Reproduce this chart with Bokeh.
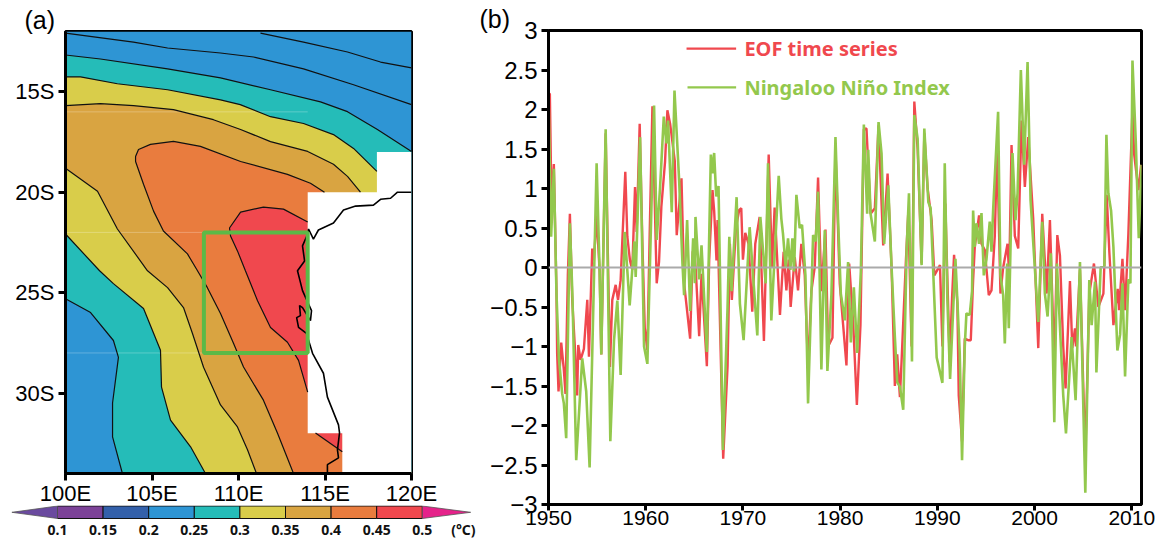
from bokeh.plotting import figure
from bokeh.layouts import row, column
from bokeh.models import Range1d, FixedTicker, Span, Title
from bokeh.core.properties import value
from bokeh.embed import file_html
from bokeh.resources import INLINE

# ---------- panel (a): contour lines, lon / lat ----------
a_lon = [100, 103.93, 105.9, 108.96, 110.87, 113.76, 116.65, 120]
a_lat = [-12.08, -12.53, -12.82, -13.07, -13.27, -13.86, -14.65, -15.64]
b_lon = [111.27, 113.76, 116.3, 118.21, 120]
b_lat = [-12.08, -12.53, -13.02, -13.52, -13.81]
c_lon = [100, 102.02, 105.9, 108.96, 111.85, 114.74, 116.3, 118.03, 120]
c_lat = [-13.17, -13.37, -13.86, -14.31, -14.9, -15.5, -15.99, -16.88, -17.97]
d_lon = [100, 100.87, 103.0, 105.9, 108.96, 110.1, 111.85, 113.76, 115.49, 116.65, 118]
d_lat = [-14.26, -14.26, -14.6, -14.9, -15.4, -15.64, -16.24, -16.58, -17.13, -17.82, -18.96]
e_lon = [100, 102.02, 103.93, 106.24, 108.55, 110.12, 111.85, 114, 115.49, 116.3, 117.05]
e_lat = [-15.69, -15.59, -15.69, -15.89, -16.39, -16.88, -17.48, -17.97, -18.61, -19.21, -20.0]
f_lon = [113.18, 112.25, 111.44, 110.29, 109.71, 108.96, 108.2, 107.63, 107.05, 105.66, 105.09, 104.51,
         104.05, 104.05, 104.22, 104.91, 106.24, 107.8, 110.12, 112.83, 114.16, 114.97]
f_lat = [-34, -31.98, -30.35, -28.7, -27.52, -26.04, -24.75, -23.91, -23.07, -21.93, -20.94, -19.6,
         -18.47, -18.22, -17.87, -17.62, -17.47, -17.72, -18.47, -19.11, -19.55, -20.0]
g_lon = [100, 101.85, 103.0, 104.74, 105.9, 106.82, 107.34, 107.98, 108.96, 109.94, 110.52, 111.04]
g_lat = [-18.81, -19.95, -21.83, -23.91, -24.75, -25.74, -27.03, -28.71, -30.59, -31.68, -32.82, -34]
h_lon = [100, 101.97, 102.77, 104.51, 105.49, 105.55, 106.07, 107.23, 108.09]
h_lat = [-22.08, -23.91, -24.55, -25.79, -27.87, -29.7, -31.34, -32.67, -34]
i_lon = [100, 101.45, 102.77, 103.06, 102.72, 102.72, 103.29]
i_lat = [-25.3, -25.99, -27.38, -28.22, -30.49, -32.18, -34]
r_lon = [114, 112.6, 111.44, 110.12, 109.48, 109.54, 109.94, 110.4, 111.1, 111.85, 112.83, 113.47, 114]
r_lat = [-21.48, -20.84, -20.74, -20.99, -21.78, -22.18, -22.92, -23.91, -25.4, -26.73, -27.47, -28.37, -29.95]
s_lon = [114.45, 116, 116]
s_lat = [-31.98, -31.98, -32.92]
land_lon = [120, 118, 118, 114, 114, 116, 116, 120]
land_lat = [-18, -18, -20, -20, -32, -32, -34, -34]
coast_lon = [120, 119.19, 118.79, 118.21, 117.8, 116.77, 116.07, 115.49, 114.62, 114.33, 114.05, 114, 113.7,
             113.82, 113.41, 113.7, 114.22, 114.16, 113.7, 113.53, 113.58, 113.36, 113.47, 113.93, 114.28,
             114.91, 115.14, 115.78, 115.84, 115.72, 115.78, 115.14, 115.14]
coast_lat = [-20, -20, -20.3, -20.35, -20.64, -20.69, -20.89, -21.53, -21.88, -22.33, -21.83, -22.08, -22.67,
             -23.42, -23.91, -24.9, -25.89, -26.39, -25.74, -25.64, -26.14, -26.24, -26.73, -27.03, -28.02,
             -29.01, -30.2, -31.58, -31.98, -32.82, -33.22, -33.56, -34]
seam_lat = [-16, -22, -28]
lat_ticks = [-30, -25, -20, -15]
lat_labels = ["30S", "25S", "20S", "15S"]
lon_ticks = [100, 105, 110, 115, 120]
lon_labels = ["100E", "105E", "110E", "115E", "120E"]

# colour bar
levels = [0.1, 0.15, 0.2, 0.25, 0.3, 0.35, 0.4, 0.45, 0.5]
level_labels = ["0.1", "0.15", "0.2", "0.25", "0.3", "0.35", "0.4", "0.45", "0.5"]
low_colour, high_colour = "#6a4a9f", "#e5228a"
bar_colours = ["#7c4298", "#3360aa", "#2e95d4", "#25bcb8", "#d9cd4a", "#d9a441", "#e97c3e", "#f0484e"]

# ---------- panel (b): the two series ----------
eof_year = [1950.0, 1950.14, 1950.31, 1950.55, 1950.82, 1950.89, 1951.03, 1951.31, 1951.58, 1951.75, 1951.99, 1952.2,
            1952.44, 1952.71, 1952.95, 1953.06, 1953.3, 1953.47, 1953.64, 1953.99, 1954.16, 1954.5, 1954.67, 1954.95,
            1955.26, 1955.43, 1955.88, 1956.32, 1956.56, 1956.91, 1957.15, 1957.42, 1957.9, 1958.11, 1958.38, 1958.62,
            1958.9, 1959.07, 1959.38, 1959.66, 1959.9, 1960.17, 1960.41, 1960.69, 1961.13, 1961.37, 1961.61, 1961.99,
            1962.23, 1962.51, 1962.99, 1963.19, 1963.68, 1963.95, 1964.57, 1964.84, 1964.98, 1965.15, 1965.5, 1965.74,
            1966.29, 1966.53, 1966.87, 1967.04, 1967.28, 1967.39, 1967.97, 1968.42, 1968.66, 1968.86, 1969.28, 1969.62,
            1969.83, 1970.0, 1970.24, 1970.58, 1970.96, 1971.27, 1971.72, 1972.16, 1972.65, 1972.99, 1973.26, 1973.81,
            1974.19, 1974.47, 1974.71, 1974.91, 1975.33, 1975.67, 1976.01, 1976.36, 1976.7, 1977.04, 1977.39, 1977.73,
            1978.07, 1978.49, 1978.76, 1979.21, 1979.52, 1979.96, 1980.31, 1980.65, 1980.93, 1981.34, 1981.72, 1982.09,
            1982.44, 1982.71, 1983.13, 1983.57, 1983.95, 1984.43, 1984.88, 1985.29, 1985.63, 1985.87, 1986.15, 1986.32,
            1986.77, 1987.01, 1987.35, 1987.63, 1987.97, 1988.38, 1988.66, 1989.0, 1989.41, 1989.69, 1990.27, 1990.52,
            1990.82, 1991.27, 1991.51, 1991.72, 1992.06, 1992.2, 1992.54, 1992.82, 1993.16, 1993.44, 1993.68, 1993.85,
            1994.29, 1994.54, 1994.88, 1995.29, 1995.57, 1995.91, 1996.15, 1996.49, 1996.77, 1997.22, 1997.39, 1997.63,
            1997.97, 1998.32, 1998.66, 1999.0, 1999.35, 1999.86, 2000.38, 2000.79, 2001.24, 2001.58, 2002.03, 2002.34,
            2002.61, 2002.95, 2003.19, 2003.64, 2003.88, 2004.16, 2004.26, 2004.67, 2005.22, 2005.63, 2006.11, 2006.56,
            2007.08, 2007.42, 2007.69, 2008.11, 2008.55, 2008.69, 2009.04, 2009.31, 2009.65, 2010.07, 2010.24, 2010.68,
            2010.96]
eof_value = [2.2, 2.2, 0.77, 1.31, -0.3, -1.09, -1.57, -0.95, -1.3, -1.6, -0.1, 0.68,
             -0.41, -1.0, -1.62, -0.98, -1.17, -1.1, -1.03, -0.41, -1.13, 0.24, 0.09, 0.66,
             -0.05, -1.1, 1.7, -1.26, -0.41, -0.22, -0.41, -0.16, 1.21, 0.39, 0.09, -0.03,
             1.02, 0.45, 1.82, 0.3, -0.76, -1.05, 0.43, 2.04, -0.2, 0.07, 0.77, 1.34,
             1.99, 1.82, 1.35, 0.41, 1.13, -0.2, -0.9, 0.2, 0.22, -0.03, -0.87, -0.08,
             -1.25, 0.1, 0.98, 0.72, 0.09, 0.6, -2.42, -1.25, 0.3, -0.41, 0.5, 0.73,
             0.75, 0.1, 0.44, 0.3, -0.56, 0.3, 0.64, -0.93, 1.43, 0.0, 0.76, -0.6,
             0.2, -0.29, 0.1, -0.5, 0.13, -0.29, 0.3, -0.1, -1.28, -0.3, 0.01, 1.14,
             -0.3, 0.48, -1.0, -0.89, 1.5, -0.2, -0.73, -1.24, 0.05, -0.7, -1.74, -0.73,
             1.75, 1.76, 0.68, 0.75, 1.8, 0.28, 1.19, 0.0, -1.5, -1.1, -1.64, -1.18,
             0.1, 0.7, -1.0, 2.1, 1.5, 0.05, 1.7, 1.0, 0.6, -0.1, 0.03, -1.0,
             0.81, -1.2, -0.39, 0.16, -0.46, -1.62, -2.2, -0.9, -0.92, -0.92, -0.16, 0.26,
             0.66, 0.3, 0.22, -0.35, -0.29, 0.4, 1.53, -0.33, 0.0, 0.3, -0.1, 1.55,
             0.4, 0.24, 1.86, 1.02, 1.65, 0.62, -1.02, 0.68, -0.33, 0.6, -1.22, 0.41,
             0.15, -1.0, -1.53, -0.17, -1.02, -0.77, -1.0, -0.03, -2.4, -0.33, 0.05, -0.5,
             -0.33, 0.92, 0.2, -0.73, -0.27, -0.54, 0.11, -0.54, 0.43, 2.0, 1.44, 0.98,
             1.3]
nni_year = [1950.0, 1950.27, 1950.55, 1950.82, 1951.07, 1951.41, 1951.58, 1951.82, 1952.2, 1952.47, 1952.85, 1953.16,
            1953.47, 1953.88, 1954.23, 1954.95, 1955.26, 1955.43, 1955.88, 1956.36, 1956.74, 1957.08, 1957.42, 1957.84,
            1958.35, 1958.83, 1958.97, 1959.42, 1959.83, 1960.17, 1960.86, 1961.13, 1961.48, 1961.86, 1962.13, 1962.3,
            1962.68, 1962.96, 1963.44, 1963.78, 1963.95, 1964.26, 1964.57, 1964.88, 1965.05, 1965.12, 1965.5, 1965.74,
            1966.29, 1966.7, 1966.87, 1967.04, 1967.25, 1967.49, 1967.94, 1968.42, 1968.6, 1968.83, 1969.35, 1969.69,
            1970.07, 1970.69, 1971.48, 1971.79, 1972.34, 1972.58, 1972.92, 1973.68, 1973.95, 1974.12, 1974.4, 1974.64,
            1974.88, 1975.09, 1975.26, 1975.5, 1975.84, 1976.08, 1976.43, 1976.7, 1977.22, 1977.49, 1977.73, 1978.07,
            1978.42, 1978.69, 1979.1, 1979.52, 1979.79, 1980.07, 1980.48, 1980.82, 1981.1, 1981.41, 1981.75, 1982.13,
            1982.44, 1982.78, 1982.89, 1983.13, 1983.57, 1983.95, 1984.26, 1984.53, 1984.95, 1985.29, 1985.63, 1985.87,
            1986.15, 1986.49, 1986.84, 1987.08, 1987.39, 1987.63, 1987.97, 1988.38, 1988.66, 1989.07, 1989.31, 1989.52,
            1989.93, 1990.52, 1990.76, 1991.03, 1991.31, 1991.86, 1992.3, 1992.54, 1992.82, 1992.99, 1993.33, 1993.57,
            1993.68, 1993.85, 1994.02, 1994.29, 1994.54, 1994.78, 1995.05, 1995.39, 1995.57, 1995.74, 1996.25, 1996.49,
            1996.77, 1996.94, 1997.18, 1997.35, 1997.73, 1998.04, 1998.25, 1998.59, 1998.93, 1999.28, 1999.59, 1999.86,
            2000.38, 2000.79, 2001.06, 2001.34, 2001.68, 2002.03, 2002.3, 2002.95, 2003.23, 2003.81, 2004.22, 2004.67,
            2005.22, 2005.63, 2005.87, 2006.22, 2006.36, 2006.8, 2007.18, 2007.39, 2007.59, 2007.87, 2008.11, 2008.52,
            2008.8, 2009.04, 2009.31, 2009.65, 2009.86, 2010.07, 2010.41, 2010.72, 2011.0]
nni_value = [2.2, 0.39, 1.25, -0.33, -1.15, -1.6, -1.72, -2.16, 0.56, -0.39, -2.44, -1.8,
             -1.15, -1.57, -2.53, 1.32, -0.05, -1.1, 1.75, -2.2, -0.92, -0.42, -1.36, 0.45,
             -0.48, 0.33, -0.12, 1.65, -1.0, -1.22, 2.05, 0.35, 1.02, 1.91, 1.57, 1.86,
             0.7, 2.24, 1.1, 0.05, -0.35, 0.6, -0.55, 0.37, -0.2, 0.64, -0.15, 0.28,
             -1.07, 1.43, 1.19, 1.45, 0.9, 1.03, -2.31, -0.5, 0.39, -0.3, 0.89, -0.46,
             -0.92, 0.51, -0.86, 0.64, -0.2, 1.32, -0.67, 1.16, 0.62, 0.43, 0.0, 0.37,
             -0.03, 0.37, -0.05, 0.92, 0.5, 0.54, -0.1, -1.72, 0.41, 0.33, 0.96, -1.29,
             0.47, -1.31, -0.35, 1.65, 0.6, -0.33, -0.67, 0.07, -0.95, -0.25, -1.08, -0.05,
             1.81, 0.68, 1.49, 0.68, 0.33, 1.84, 1.44, 0.3, 1.04, 0.0, -0.88, -1.45,
             -1.51, -1.8, 0.22, 0.94, -1.19, 1.93, 1.63, 0.03, 1.76, 0.83, 0.75, 0.11,
             -1.14, -1.46, 1.32, -0.4, -1.41, 0.11, -1.07, -2.44, -1.0, -0.58, -0.6, -0.3,
             0.72, 0.26, 0.56, 0.3, 0.69, -0.1, 0.1, 0.58, 0.2, 0.73, 1.97, -0.1,
             -0.35, -0.96, 0.05, -0.77, 1.45, 0.6, 0.94, 2.5, 1.3, 2.6, 0.85, 0.32,
             -0.69, 0.58, -0.33, -0.62, 0.18, -1.96, 0.05, -1.62, -2.1, -0.88, -1.68, 0.07,
             -2.85, -0.16, -0.73, -0.18, -1.33, 0.0, 0.02, 1.68, 0.94, 0.72, 0.26, -1.05,
             -0.85, -0.2, -1.38, -0.15, -0.2, 2.62, 1.6, 0.37, 1.3]
x_ticks = [1950, 1960, 1970, 1980, 1990, 2000, 2010]
y_ticks = [-3, -2.5, -2, -1.5, -1, -0.5, 0, 0.5, 1, 1.5, 2, 2.5, 3]
y_labels = ["\u22123", "\u22122.5", "\u22122", "\u22121.5", "\u22121", "\u22120.5", "0", "0.5", "1", "1.5", "2", "2.5", "3"]
series_names = ["EOF time series", "Ningaloo Ni\u00f1o Index"]

RED, GREEN = "#f0484e", "#93c84d"
SANS = "Liberation Sans"
HUM = "Noto Sans"

# ---------- panel (a) ----------
pa = figure(width=480, height=506, x_range=Range1d(100, 120), y_range=Range1d(-34, -12),
            frame_width=346, frame_height=442, min_border_left=65, min_border_right=69,
            min_border_top=31, min_border_bottom=0, frame_align=False,
            output_backend="svg", toolbar_location=None)
pa.grid.visible = False
pa.xaxis.ticker = FixedTicker(ticks=lon_ticks)
pa.yaxis.ticker = FixedTicker(ticks=lat_ticks)
pa.xaxis.major_label_overrides = dict(zip(lon_ticks, lon_labels))
pa.yaxis.major_label_overrides = dict(zip(lat_ticks, lat_labels))
blue, teal, yellow, tan, orange, red = bar_colours[2:]
pa.patch([100, 120, 120, 100], [-34, -34, -12, -12], color=blue, line_width=0)
pa.patch(c_lon + [120] + i_lon[::-1], c_lat + [-34] + i_lat[::-1], color=teal, line_width=0)
pa.patch(d_lon + [120] + h_lon[::-1], d_lat + [-34] + h_lat[::-1], color=yellow, line_width=0)
pa.patch(e_lon + [120] + g_lon[::-1], e_lat + [-34] + g_lat[::-1], color=tan, line_width=0)
pa.patch(f_lon + [120], f_lat + [-34], color=orange, line_width=0)
pa.patch(r_lon, r_lat, color=red, line_width=0)
pa.patch(s_lon, s_lat, color=red, line_width=0)
pa.patch(land_lon, land_lat, color="white", line_width=0)
pa.segment([100] * 3, seam_lat, [114] * 3, seam_lat, line_color="white", line_alpha=0.25, line_width=1)
pa.multi_line([a_lon, b_lon, c_lon, d_lon, e_lon, f_lon, g_lon, h_lon, i_lon, r_lon, s_lon[:1] + s_lon[2:]],
              [a_lat, b_lat, c_lat, d_lat, e_lat, f_lat, g_lat, h_lat, i_lat, r_lat, s_lat[:1] + s_lat[2:]],
              line_color="#111111", line_width=1.2)
pa.line(coast_lon, coast_lat, line_color="black", line_width=1.6)
pa.quad(left=[108], right=[114], top=[-22], bottom=[-28], fill_alpha=0, line_color="#5cb947", line_width=4)
pa.add_layout(Title(text="(a)", text_font=SANS, text_font_size="25px", text_font_style="normal",
                    text_color="black", align="left", offset=-41, standoff=-5), "above")

# ---------- colour bar ----------
pc = figure(width=480, height=36, x_range=Range1d(0.1 - 57 / 912, 0.1 + 423 / 912), y_range=Range1d(-23, 13),
            min_border_left=0, min_border_right=0, min_border_top=0, min_border_bottom=0, frame_align=False,
            output_backend="svg", toolbar_location=None, margin=(-3, 0, 0, 0))
pc.axis.visible = False
pc.grid.visible = False
pc.outline_line_color = None
pc.quad(left=levels[:-1], right=levels[1:], bottom=0, top=12.5, fill_color=bar_colours,
        line_color="#111111", line_width=1)
pc.patch([0.1, 0.1, 0.05], [0, 12.5, 6.2], fill_color=low_colour, line_color="#555555", line_width=0.8)
pc.patch([0.5, 0.5, 0.553], [0, 12.5, 6.2], fill_color=high_colour, line_color="#555555", line_width=0.8)
pc.text(levels, [-11] * len(levels), text=level_labels, text_font=value(HUM), text_font_size="14px",
        text_font_style="bold", text_align="center", text_baseline="middle", text_color="#111111")
pc.text([0.545], [-11], text=["(\u00b0C)"], text_font=value(HUM), text_font_size="14px", text_font_style="bold",
        text_align="center", text_baseline="middle", text_color="#111111")

# ---------- panel (b) ----------
pb = figure(width=685, height=539, x_range=Range1d(1950, 2011), y_range=Range1d(-3, 3),
            frame_width=593, frame_height=474, min_border_left=68, min_border_right=24,
            min_border_top=30, min_border_bottom=0, frame_align=False,
            output_backend="svg", toolbar_location=None)
pb.grid.visible = False
pb.xaxis.ticker = FixedTicker(ticks=x_ticks)
pb.yaxis.ticker = FixedTicker(ticks=y_ticks)
pb.yaxis.major_label_overrides = dict(zip(y_ticks, y_labels))
pb.line(eof_year, eof_value, line_color=RED, line_width=2.4)
pb.line(nni_year, nni_value, line_color=GREEN, line_width=2.6)
pb.add_layout(Span(location=0, dimension="width", line_color="#aaaaaa", line_width=2))
pb.line([1964.2, 1969.3], [2.77, 2.77], line_color=RED, line_width=2.4)
pb.line([1964.3, 1969.3], [2.28, 2.28], line_color=GREEN, line_width=2.4)
pb.text([1970.15, 1970.15], [2.77, 2.28], text=series_names, text_font=value(HUM), text_font_size="20px",
        text_font_style="bold", text_color=[RED, GREEN], text_baseline="middle")
pb.add_layout(Title(text="(b)", text_font=SANS, text_font_size="25px", text_font_style="normal",
                    text_color="black", align="left", offset=-69, standoff=-5), "above")

for p, size in ((pa, "22px"), (pb, "24px")):
    p.outline_line_color = "black"
    p.outline_line_width = 3
    for ax in (p.xaxis[0], p.yaxis[0]):
        ax.axis_line_width = 3
        ax.major_tick_line_width = 3
        ax.major_tick_in = 0
        ax.major_tick_out = 7
        ax.minor_tick_line_color = None
        ax.major_label_text_font = SANS
        ax.major_label_text_font_size = size
        ax.major_label_text_color = "black"
        ax.major_label_standoff = 4
pa.xaxis[0].major_label_standoff = 0
pb.xaxis[0].major_label_standoff = 0
pb.xaxis[0].major_tick_out = 6
pb.xaxis[0].major_label_text_font_size = "21px"

layout = row(column(pa, pc, spacing=0), pb, spacing=0)
open("out.html", "w").write(file_html(layout, INLINE))
